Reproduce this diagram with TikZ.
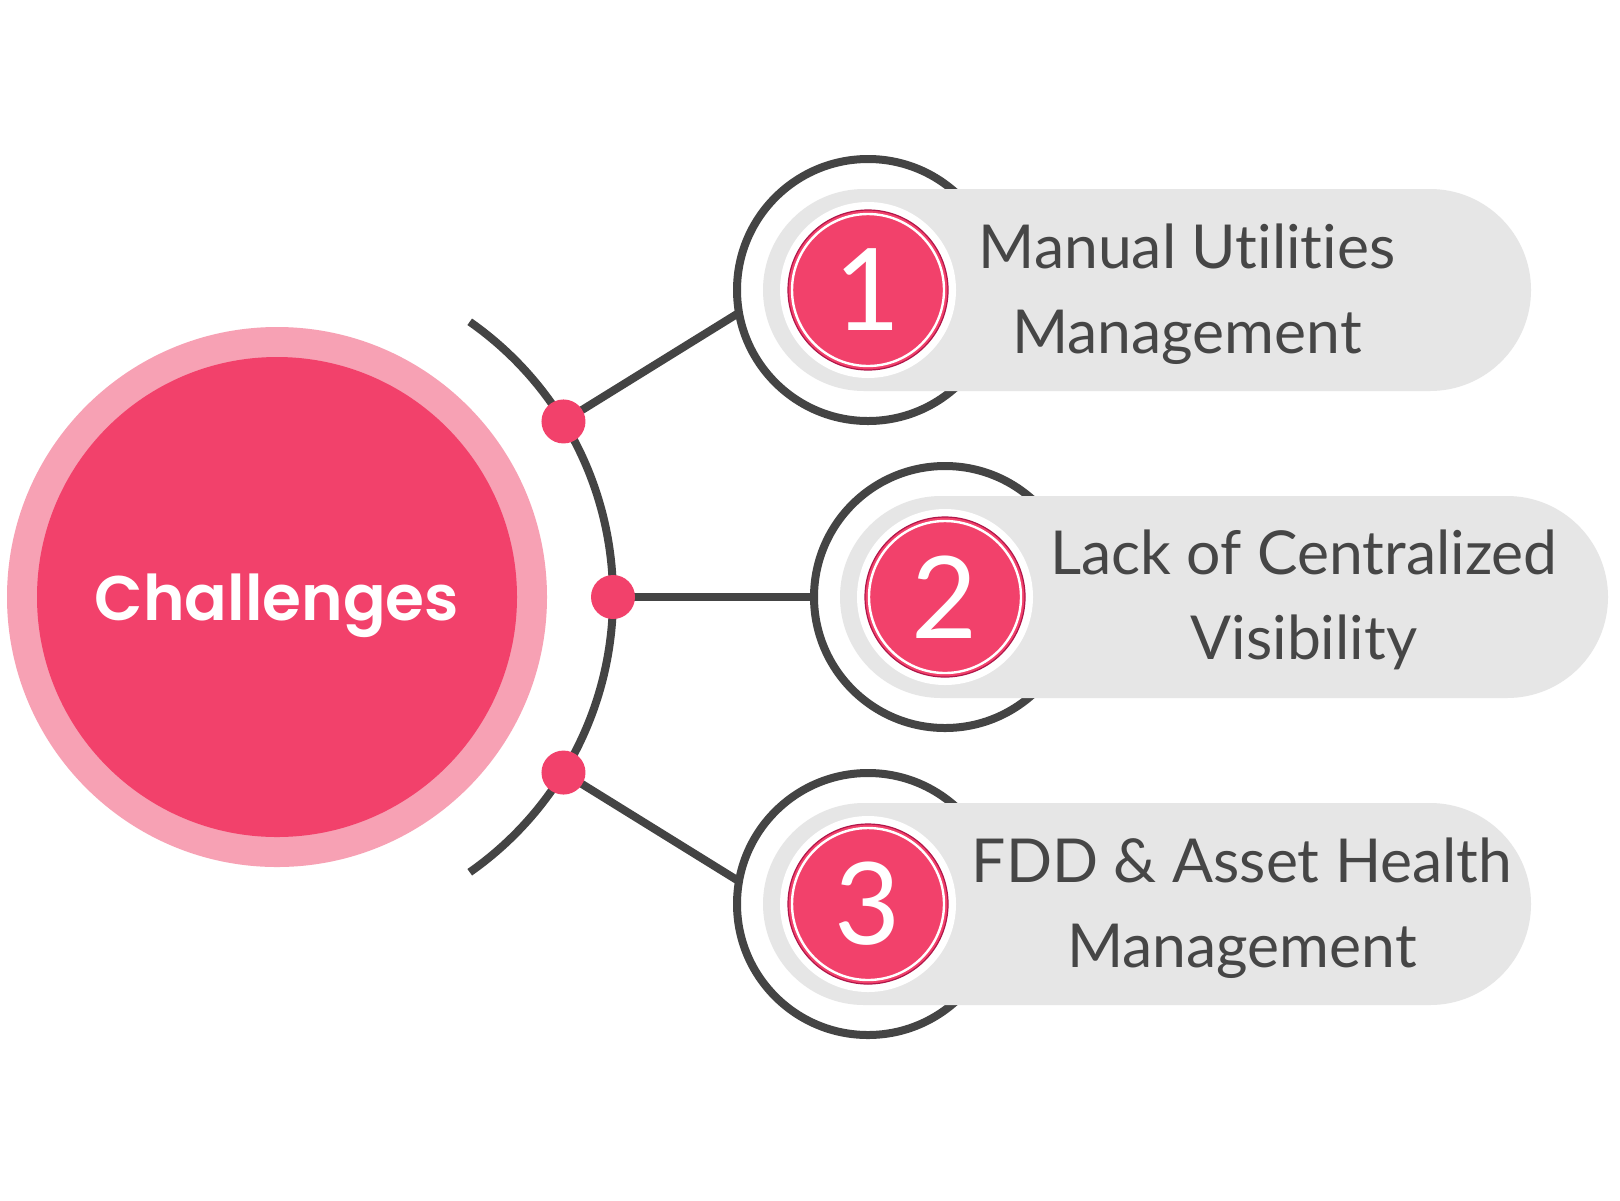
\documentclass[tikz,border=0pt]{standalone}
\usepackage{fontspec}
\setmainfont{Lato}[Ligatures=NoCommon]
\newfontfamily\popfont{Poppins}[UprightFont=* SemiBold]
\definecolor{mainpink}{HTML}{F2416B}
\definecolor{lightpink}{HTML}{F7A1B4}
\definecolor{dgray}{HTML}{444444}
\definecolor{pillgray}{HTML}{E6E6E6}
\definecolor{crimson}{HTML}{B0164A}
\definecolor{txtgray}{HTML}{464646}
\tikzset{
  ln/.style={draw=dgray, line width=4pt},
  dotst/.style={circle, fill=mainpink, minimum size=22pt, inner sep=0pt},
  ringst/.style={circle, draw=dgray, line width=4pt, minimum size=131pt, inner sep=0pt, outer sep=0pt},
  pill/.style={rectangle, fill=pillgray, minimum width=384pt, minimum height=101pt, rounded corners=50.5pt, inner sep=0pt},
  whitedisk/.style={circle, fill=white, minimum size=88pt, inner sep=0pt},
  numc/.style={circle, fill=mainpink, draw=crimson, line width=0.6pt, minimum size=80pt, inner sep=0pt, text=white, font=\fontsize{57}{57}\selectfont},
  txt/.style={align=center, text=txtgray, font=\fontsize{30.3}{42.5}\selectfont, inner sep=0pt}
}
\begin{document}
\begin{tikzpicture}[x=0.5pt,y=-0.5pt]
\useasboundingbox[fill=white] (0,0) rectangle (1620,1200);
% main circle
\node[circle, fill=lightpink, minimum size=270pt, inner sep=0pt] (outer) at (277,597) {};
\node[circle, fill=mainpink, minimum size=240pt, inner sep=0pt] (main) at (277,597) {};
\node[text=white, font=\popfont\fontsize{31.5}{36}\selectfont, text depth=0pt, inner sep=0pt] (lbl) at (main.center) {Challenges};
% rings (positions)
\node[ringst] (r1) at (868,290) {};
\node[ringst] (r2) at (945,597) {};
\node[ringst] (r3) at (868,904) {};
% dots positions
\path (277,597) ++(-31.5:336) coordinate (c1);
\path (277,597) ++(0:336) coordinate (c2);
\path (277,597) ++(31.5:336) coordinate (c3);
% connectors
\draw[ln] (c1) -- (r1.190);
\draw[ln] (c2) -- (r2.180);
\draw[ln] (c3) -- (r3.170);
% arc
\draw[ln] (277,597) ++(-55:336) arc[start angle=-55, end angle=55, radius=336];
% dots
\node[dotst] (d1) at (c1) {};
\node[dotst] (d2) at (c2) {};
\node[dotst] (d3) at (c3) {};
% pills
\node[pill] (p1) at (1147,290) {};
\node[pill] (p2) at (1224,597) {};
\node[pill] (p3) at (1147,904) {};
% number circles
\node[whitedisk] (w1) at (868,290) {};
\node[whitedisk] (w2) at (945,597) {};
\node[whitedisk] (w3) at (868,904) {};
\node[numc] (n1) at (868,290) {1};
\node[numc] (n2) at (945,597) {2};
\node[numc] (n3) at (868,904) {3};
\draw[white, line width=1.2pt] (n1.center) circle[radius=76];
\draw[white, line width=1.2pt] (n2.center) circle[radius=76];
\draw[white, line width=1.2pt] (n3.center) circle[radius=76];
% texts
\node[txt] (t1) at (1187,294) {Manual Utilities\\Management};
\node[txt] (t2) at (1304,600) {Lack of Centralized\\Visibility};
\node[txt] (t3) at (1242,908) {FDD \& Asset Health\\Management};
\end{tikzpicture}
\end{document}
